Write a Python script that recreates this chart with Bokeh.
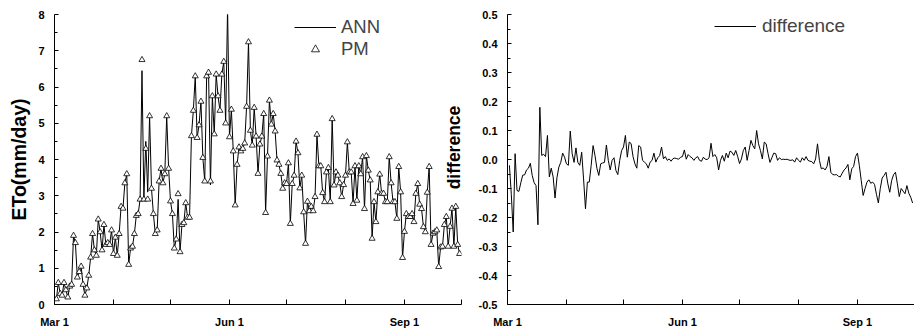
from math import pi
from bokeh.plotting import figure
from bokeh.models import FixedTicker, Legend, LegendItem, Label, Range1d, NumeralTickFormatter
from bokeh.layouts import row
from bokeh.embed import file_html
from bokeh.resources import INLINE

FONT = "Liberation Sans"

# ---- data ----
month_ticks = [0, 92, 184]
month_labels = ["Mar 1", "Jun 1", "Sep 1"]
month_minor_ticks = [31, 61, 122, 153, 214]
eto_ticks = [0, 1, 2, 3, 4, 5, 6, 7, 8]
eto_minor_ticks = [0.5, 1.5, 2.5, 3.5, 4.5, 5.5, 6.5, 7.5]
diff_ticks = [-0.5, -0.4, -0.3, -0.2, -0.1, 0.0, 0.1, 0.2, 0.3, 0.4, 0.5]
diff_minor_ticks = [-0.45, -0.35, -0.25, -0.15, -0.05, 0.05, 0.15, 0.25, 0.35, 0.45]

# PM (FAO Penman-Monteith) ETo, mm/day, daily from Mar 2
pm = [0.15, 0.6, 0.3, 0.25, 0.6, 0.4, 0.2, 0.5, 0.55, 1.9,
      1.7, 0.75, 0.9, 1.05, 0.55, 0.25, 0.45, 0.8, 1.3, 1.95,
      1.5, 1.35, 2.35, 2.0, 1.5, 2.2, 1.65, 1.7, 1.65, 2.05,
      1.4, 1.85, 1.35, 1.95, 2.7, 2.65, 3.35, 3.6, 1.1, 1.55,
      1.6, 1.95, 2.45, 2.5, 2.9, 6.75, 2.9, 4.3, 2.9, 5.2,
      3.2, 2.5, 1.95, 2.05, 3.4, 3.75, 3.35, 3.6, 5.2, 3.75,
      2.85, 2.5, 1.55, 1.8, 3.05, 1.45, 2.2, 2.25, 2.8, 2.4,
      2.4, 4.65, 5.35, 6.3, 4.6, 4.95, 5.6, 4.05, 3.4, 6.3,
      6.4, 3.4, 5.75, 4.7, 6.35, 5.75, 5.35, 6.35, 6.7, 5.0,
      8.3, 4.62, 5.38, 4.23, 2.74, 3.86, 4.34, 4.23, 4.3, 4.45,
      5.46, 7.24, 4.8, 4.39, 5.43, 4.64, 3.61, 4.42, 4.64, 5.26,
      2.53, 4.09, 5.63, 4.97, 5.26, 4.78, 3.98, 3.86, 3.61, 3.2,
      3.35, 3.33, 3.9, 2.23, 3.33, 3.56, 4.5, 4.18, 3.21, 3.56,
      2.55, 1.68, 2.84, 2.58, 2.7, 2.58, 2.97, 4.69, 3.82, 3.82,
      3.08, 2.83, 3.65, 3.77, 2.83, 5.12, 3.29, 3.65, 3.56, 3.35,
      2.97, 3.3, 3.56, 4.48, 3.65, 3.65, 2.78, 3.82, 2.87, 3.82,
      3.6, 4.07, 2.64, 4.1, 3.7, 3.43, 1.82, 2.83, 2.28, 3.1,
      3.59, 3.06, 3.06, 2.83, 2.83, 4.07, 3.35, 2.83, 2.83, 2.37,
      3.8, 3.1, 1.29, 2.01, 2.5, 2.42, 2.42, 2.5, 2.28, 3.06,
      3.33, 2.76, 2.64, 2.14, 2.0, 3.09, 3.8, 1.65, 1.96, 2.0,
      2.05, 1.04, 1.58, 1.6, 2.2, 2.42, 1.6, 2.15, 2.65, 1.6,
      2.7, 1.65, 1.4]

# ANN estimate: same as PM except on these days (day number from Mar 1)
ann_diff_days = [46, 48, 49, 65, 82, 91]
ann_diff_values = [6.45, 4.5, 3.1, 2.9, 3.3, 8.2]

# difference series, daily from Mar 2
difference = [-0.02, -0.12, -0.25, 0.02, -0.107, -0.11, -0.08, -0.054, -0.053, -0.036,
              -0.03, -0.013, -0.055, -0.08, -0.09, -0.225, 0.18, 0.014, 0.018, 0.01,
              0.083, -0.06, -0.03, -0.06, -0.133, -0.063, -0.026, -0.01, 0.022, 0.008,
              -0.015, -0.02, 0.098, 0.02, -0.01, 0.04, -0.01, -0.02, 0.025, -0.067,
              -0.17, -0.078, -0.078, -0.02, 0.048, 0.014, -0.03, -0.055, -0.015, -0.012,
              -0.01, 0.05, -0.003, -0.036, -0.003, 0.006, -0.038, -0.052, -0.003, 0.031,
              0.043, 0.083, 0.008, 0.06, 0.055, 0.01, -0.015, -0.03, 0.048, 0.043,
              -0.003, -0.009, -0.015, -0.03, -0.009, -0.003, 0.022, -0.009, 0.006, 0.013,
              0.043, 0.002, 0.01, -0.003, 0.002, -0.006, 0.003, 0.005, 0.003, 0.001,
              0.008, 0.01, 0.033, 0.001, 0.017, 0.01, 0.006, -0.003, 0.006, 0.01,
              -0.003, -0.006, 0.008, 0.001, 0.0, 0.006, 0.056, 0.01, 0.017, 0.006,
              -0.036, -0.003, 0.014, -0.006, 0.022, 0.006, 0.029, 0.025, 0.014, 0.031,
              0.011, -0.014, 0.002, 0.031, 0.043, -0.003, 0.031, 0.066, 0.048, 0.037,
              0.1, 0.054, 0.031, 0.002, 0.06, 0.054, 0.02, -0.01, 0.006, 0.022,
              0.02, -0.003, 0.006, 0.0, 0.001, 0.0, 0.001, -0.002, -0.003, -0.001,
              -0.009, 0.006, -0.003, -0.009, 0.006, -0.003, 0.01, -0.003, -0.006, -0.007,
              -0.015, 0.002, 0.054, -0.003, -0.032, -0.029, -0.036, -0.024, 0.01, -0.044,
              -0.052, -0.053, -0.052, -0.058, -0.06, -0.047, -0.036, -0.029, -0.017, -0.07,
              -0.032, -0.024, 0.01, 0.022, -0.021, -0.073, -0.124, -0.1, -0.078, -0.07,
              -0.082, -0.078, -0.086, -0.12, -0.15, -0.1, -0.064, -0.055, -0.044, -0.084,
              -0.113, -0.072, -0.052, -0.044, -0.084, -0.128, -0.1, -0.109, -0.118, -0.09,
              -0.116, -0.13, -0.15]

days = list(range(1, len(pm) + 1))
ann = list(pm)
for d, v in zip(ann_diff_days, ann_diff_values):
    ann[d - 1] = v
diff_days = list(range(1, len(difference) + 1))


def style_axes(p, yticks, yminor):
    p.outline_line_color = None
    p.xgrid.visible = False
    p.ygrid.visible = False
    p.xaxis.ticker = FixedTicker(ticks=month_ticks, minor_ticks=month_minor_ticks)
    p.xaxis.major_label_overrides = dict(zip(month_ticks, month_labels))
    p.yaxis.ticker = FixedTicker(ticks=yticks, minor_ticks=yminor)
    for ax in p.axis:
        ax.axis_line_color = "black"
        ax.axis_line_width = 1
        ax.major_tick_line_color = "black"
        ax.minor_tick_line_color = "black"
        ax.major_tick_out = 0
        ax.minor_tick_out = 0
        ax.major_label_text_font = FONT
        ax.major_label_text_font_size = "11px"
        ax.major_label_text_font_style = "bold"
        ax.major_label_text_color = "black"
    p.xaxis.major_tick_in = 5
    p.xaxis.minor_tick_in = 5
    p.xaxis.major_label_standoff = 11
    p.yaxis.major_tick_in = 4
    p.yaxis.minor_tick_in = 3
    p.yaxis.major_label_standoff = 10


common = dict(height=333, output_backend="svg", toolbar_location=None,
              min_border_top=14, min_border_bottom=29,
              background_fill_color="white", border_fill_color="white")

# ---- left panel ----
p1 = figure(width=467, x_range=Range1d(0, 214), y_range=Range1d(0, 8),
            min_border_left=54, min_border_right=6, **common)
style_axes(p1, eto_ticks, eto_minor_ticks)
p1.yaxis.axis_label = "ETo(mm/day)"
p1.yaxis.axis_label_text_font = FONT
p1.yaxis.axis_label_text_font_size = "19.5px"
p1.yaxis.axis_label_text_font_style = "bold"
p1.yaxis.axis_label_text_color = "black"
p1.yaxis.axis_label_standoff = 5

r_ann = p1.line(days, ann, line_color="black", line_width=1)
r_pm = p1.scatter(days, pm, marker="triangle", size=6, fill_color="white",
                  line_color="black", line_width=0.8)
leg1 = Legend(items=[LegendItem(label="ANN", renderers=[r_ann]),
                     LegendItem(label="PM", renderers=[r_pm])],
              location=(240, 244), glyph_width=42, glyph_height=20,
              label_standoff=5, spacing=0, padding=0, margin=0,
              label_text_font=FONT, label_text_font_size="18.5px",
              border_line_color=None, background_fill_alpha=0)
p1.add_layout(leg1)
# y-axis title of the right panel (it sits over the gap between the panels)
p1.add_layout(Label(x=399.5, y=157, x_units="screen", y_units="screen",
                    text="difference", angle=pi / 2, text_align="center",
                    text_baseline="middle", text_font=FONT, text_font_size="17.5px",
                    text_font_style="bold", text_color="black"))

# ---- right panel ----
p2 = figure(width=447, x_range=Range1d(0, 214), y_range=Range1d(-0.5, 0.5),
            min_border_left=40, min_border_right=0, **common)
style_axes(p2, diff_ticks, diff_minor_ticks)
p2.yaxis.formatter = NumeralTickFormatter(format="0.0")
r_diff = p2.line(diff_days, difference, line_color="black", line_width=1)
leg2 = Legend(items=[LegendItem(label="difference", renderers=[r_diff])],
              location=(207, 267), glyph_width=42, glyph_height=20,
              label_standoff=6, spacing=0, padding=0, margin=0,
              label_text_font=FONT, label_text_font_size="19px",
              border_line_color=None, background_fill_alpha=0)
p2.add_layout(leg2)

layout = row(p1, p2)
open("out.html", "w").write(file_html(layout, INLINE))
